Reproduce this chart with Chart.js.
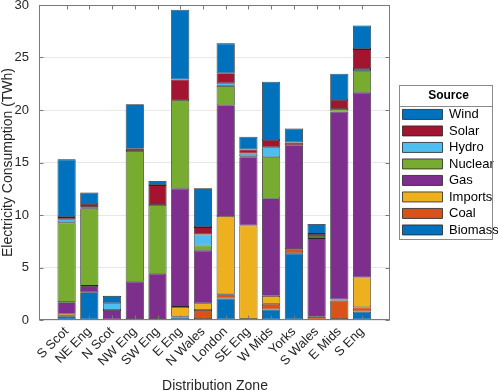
<!DOCTYPE html>
<html><head><meta charset="utf-8">
<script src="https://cdn.jsdelivr.net/npm/chart.js@4/dist/chart.umd.min.js"></script>
<style>html,body{margin:0;padding:0;background:#fff}#wrap{width:498px;height:391px;position:relative}</style>
</head><body><div id="wrap"><canvas id="c"></canvas></div>
<script>
const zones = ['S Scot','NE Eng','N Scot','NW Eng','SW Eng','E Eng','N Wales','London','SE Eng','W Mids','Yorks','S Wales','E Mids','S Eng'];
const biomass = [0.3, 2.65, 0, 0.1, 0, 0.25, 0.1, 2.05, 0.05, 1.0, 6.35, 0, 0.1, 0.8];
const coal    = [0.1, 0, 0, 0, 0, 0.05, 0.85, 0.4, 0.05, 0.55, 0.4, 0.3, 1.75, 0.4];
const imports = [0.2, 0, 0, 0, 0.1, 0.95, 0.65, 7.45, 8.9, 0.75, 0, 0, 0.1, 2.85];
const gas     = [1.1, 0.6, 0.95, 3.55, 4.3, 11.25, 5.0, 10.55, 6.5, 9.3, 9.9, 7.5, 17.9, 17.6];
const nuclear = [7.6, 7.35, 0, 12.45, 6.55, 8.45, 0.5, 1.85, 0.1, 3.9, 0, 0.2, 0.25, 2.05];
const hydro   = [0.3, 0.15, 0.65, 0, 0, 0, 1.05, 0.25, 0.25, 0.95, 0, 0, 0, 0.2];
const solar   = [0.2, 0.3, 0, 0.2, 1.9, 1.95, 0.7, 0.95, 0.4, 0.7, 0.25, 0.2, 0.85, 1.9];
const wind    = [5.5, 1.1, 0.7, 4.25, 0.4, 6.65, 3.7, 2.85, 1.2, 5.55, 1.35, 0.95, 2.5, 2.25];
const yTicks  = [0, 5, 10, 15, 20, 25, 30];

const seriesNames  = ['Biomass','Coal','Imports','Gas','Nuclear','Hydro','Solar','Wind'];
const seriesValues = [biomass, coal, imports, gas, nuclear, hydro, solar, wind];
const seriesColors = ['#0072BD','#D95319','#EDB120','#7E2F8E','#77AC30','#4DBEEE','#A2142F','#0072BD'];

const FONT = "'Liberation Sans', Arial, Helvetica, sans-serif";
const TXT = '#262626';

const datasets = seriesNames.map((name, s) => ({
  label: name,
  data: seriesValues[s].map((v, i) => ({x: i, y: v})),
  backgroundColor: seriesColors[s],
  borderColor: '#262626',
  borderWidth: 0.8,
  borderSkipped: false,
  barPercentage: 0.8,
  categoryPercentage: 1.0,
  stack: 'one'
}));

const frame = {
  id: 'frame',
  afterDraw(chart) {
    const {ctx, chartArea: a, scales: {x, y}} = chart;
    ctx.save();
    ctx.strokeStyle = '#7a7a7a';
    ctx.lineWidth = 1;
    const L = Math.round(a.left) - 0.5, R = Math.round(a.right) - 0.5;
    const T = Math.round(a.top) + 0.5, B = Math.round(a.bottom) - 0.5;
    ctx.strokeRect(L, T, R - L, B - T);
    ctx.beginPath();
    yTicks.forEach(v => {
      const py = Math.round(y.getPixelForValue(v)) + 0.5;
      ctx.moveTo(L, py); ctx.lineTo(L + 4, py);
      ctx.moveTo(R, py); ctx.lineTo(R - 4, py);
    });
    zones.forEach((z, i) => {
      const px = Math.round(x.getPixelForValue(i)) + 0.5;
      ctx.moveTo(px, B); ctx.lineTo(px, B - 4);
      ctx.moveTo(px, T); ctx.lineTo(px, T + 4);
    });
    ctx.stroke();
    const lg = chart.legend;
    const hb = lg.legendHitBoxes;
    if (hb && hb.length) {
      const first = hb[0], last = hb[hb.length - 1];
      const bx = Math.round(lg.left) + 0.5, bw = 93;
      const top = Math.round(first.top - 23) + 0.5;
      const sep = Math.round(first.top - 2) + 0.5;
      const bot = Math.round(last.top + last.height + 2.5) + 0.5;
      ctx.strokeStyle = '#8a8a8a';
      ctx.strokeRect(bx, top, bw, bot - top);
      ctx.beginPath();
      ctx.moveTo(bx, sep); ctx.lineTo(bx + bw, sep);
      ctx.stroke();
    }
    ctx.restore();
  }
};

new Chart(document.getElementById('c'), {
  type: 'bar',
  data: { datasets },
  options: {
    responsive: true,
    maintainAspectRatio: false,
    animation: false,
    devicePixelRatio: 1,
    layout: { padding: { top: 5, left: 0, right: 0, bottom: 0 } },
    plugins: {
      tooltip: { enabled: false },
      legend: {
        position: 'right',
        fullSize: false,
        reverse: true,
        maxWidth: 99,
        labels: {
          boxWidth: 40, boxHeight: 10, padding: 3.5,
          color: '#000', font: { family: FONT, size: 13 }
        },
        title: {
          display: true, text: 'Source', color: '#000',
          font: { family: FONT, size: 12, weight: 'bold' },
          padding: { top: 5, bottom: 0 }
        }
      }
    },
    scales: {
      x: {
        type: 'linear',
        stacked: true,
        min: -1.17, max: 14.23,
        offset: false,
        grid: { display: false, drawTicks: false },
        border: { display: false },
        afterBuildTicks: (s) => { s.ticks = zones.map((z, i) => ({ value: i })); },
        afterFit: (s) => { s.height = 71; s.paddingLeft = 0; s.paddingRight = 0; },
        ticks: {
          autoSkip: false, maxRotation: 45, minRotation: 45, padding: 4,
          color: TXT, font: { family: FONT, size: 13 },
          callback: (v) => zones[v] !== undefined ? zones[v] : ''
        },
        title: {
          display: true, text: 'Distribution Zone', color: TXT,
          font: { family: FONT, size: 14, lineHeight: 1 },
          padding: { top: 0, bottom: -2 }
        }
      },
      y: {
        stacked: true,
        min: 0, max: 30,
        grid: { color: '#e8e8e8', drawTicks: false },
        border: { display: false },
        afterBuildTicks: (s) => { s.ticks = yTicks.map(v => ({ value: v })); },
        afterFit: (s) => { s.width = 40; s.paddingTop = 0; s.paddingBottom = 0; },
        ticks: { padding: 11, color: TXT, font: { family: FONT, size: 13 } },
        title: {
          display: true, text: 'Electricity Consumption (TWh)', color: TXT,
          font: { family: FONT, size: 14, lineHeight: 1.1 },
          padding: { top: 0, bottom: 0 }
        }
      },
      y2: {
        position: 'right',
        display: true,
        min: 0, max: 30,
        grid: { display: false, drawTicks: false },
        border: { display: false },
        ticks: { display: false },
        afterFit: (s) => { s.width = 9; s.paddingTop = 0; s.paddingBottom = 0; }
      }
    }
  },
  plugins: [frame]
});
</script>
</body></html>
